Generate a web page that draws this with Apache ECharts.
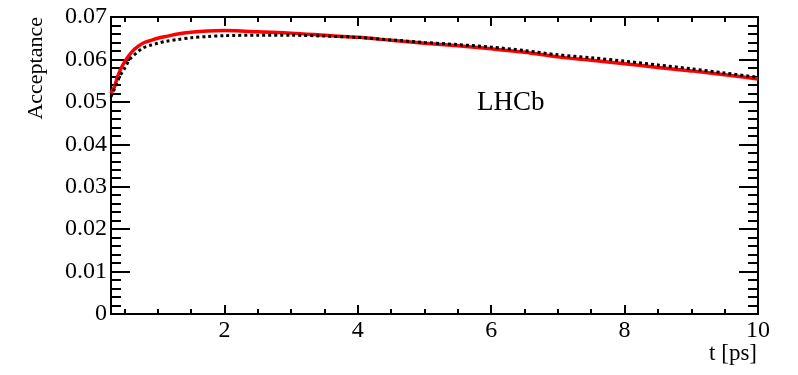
<!DOCTYPE html>
<html>
<head>
<meta charset="utf-8">
<script src="https://cdn.jsdelivr.net/npm/echarts@6/dist/echarts.min.js"></script>
<style>
  html, body { margin: 0; padding: 0; background: #fff; }
  #chart { width: 798px; height: 375px; }
</style>
</head>
<body>
<div id="chart"></div>
<script>
// acceptance curves, t in ps
const tRed = [0.3, 0.35, 0.4, 0.47, 0.55, 0.62, 0.7, 0.8, 0.9, 1.0, 1.15, 1.3, 1.5, 1.75, 2.0, 2.25, 2.5, 3.0, 3.5, 4.0, 4.5, 5.0, 5.5, 6.0, 6.5, 7.0, 7.5, 8.0, 8.5, 9.0, 9.5, 10];
const accRed = [0.0520, 0.0535, 0.0560, 0.0585, 0.0605, 0.0619, 0.0630, 0.0640, 0.0645, 0.0650, 0.0655, 0.0660, 0.0664, 0.0667, 0.0668, 0.0667, 0.0665, 0.0662, 0.0657, 0.0652, 0.0645, 0.0638, 0.0632, 0.0625, 0.0617, 0.0606, 0.0598, 0.0590, 0.0581, 0.0573, 0.0564, 0.0554];

const tBlack = [0.3, 0.35, 0.43, 0.5, 0.58, 0.68, 0.78, 0.9, 1.0, 1.13, 1.3, 1.5, 1.75, 2.0, 2.5, 3.0, 3.5, 4.0, 4.5, 5.0, 5.5, 6.0, 6.5, 7.0, 7.5, 8.0, 8.5, 9.0, 9.5, 10];
const accBlack = [0.0512, 0.0530, 0.0560, 0.0578, 0.0600, 0.0615, 0.0627, 0.0634, 0.0638, 0.0643, 0.0647, 0.0651, 0.0654, 0.0656, 0.0657, 0.0657, 0.0655, 0.0652, 0.0646, 0.0640, 0.0635, 0.0629, 0.0621, 0.0611, 0.0604, 0.0596, 0.0587, 0.0578, 0.0568, 0.0558];

const xMajor = [2, 4, 6, 8, 10];
const xMinor = [0.5, 1, 1.5, 2.5, 3, 3.5, 4.5, 5, 5.5, 6.5, 7, 7.5, 8.5, 9, 9.5];

const FONT = 'Liberation Serif';
const chart = echarts.init(document.getElementById('chart'));

function zip(xs, ys) {
    return xs.map((x, i) => [x, ys[i]]);
}

function xAxisDef(position, values, len, showLabel) {
    return {
        type: 'value',
        position: position,
        min: 0.3,
        max: 10,
        axisLine: { show: true, lineStyle: { color: '#000', width: 2 } },
        axisTick: { show: true, inside: true, length: len, customValues: values, lineStyle: { color: '#000', width: 2 } },
        axisLabel: {
            show: showLabel,
            customValues: values,
            color: '#000',
            fontFamily: FONT,
            fontSize: 24,
            margin: 5
        },
        splitLine: { show: false }
    };
}

function yAxisDef(position, showLabel) {
    return {
        type: 'value',
        position: position,
        min: 0,
        max: 0.07,
        interval: 0.01,
        axisLine: { show: true, lineStyle: { color: '#000', width: 2 } },
        axisTick: { show: true, inside: true, length: 19, lineStyle: { color: '#000', width: 2 } },
        minorTick: { show: true, splitNumber: 5, length: 10, lineStyle: { color: '#000', width: 2 } },
        axisLabel: {
            show: showLabel,
            color: '#000',
            fontFamily: FONT,
            fontSize: 24,
            margin: 4
        },
        splitLine: { show: false }
    };
}

chart.setOption({
    animation: false,
    grid: { left: 111, right: 40, top: 17, bottom: 61 },
    xAxis: [
        xAxisDef('bottom', xMajor, 9, true),
        xAxisDef('bottom', xMinor, 5, false),
        xAxisDef('top', xMajor, 9, false),
        xAxisDef('top', xMinor, 5, false)
    ],
    yAxis: [
        yAxisDef('left', true),
        yAxisDef('right', false)
    ],
    graphic: [
        {
            type: 'text',
            x: 757, y: 342,
            style: { text: 't [ps]', fontFamily: FONT, fontSize: 23, fill: '#000', textAlign: 'right', textVerticalAlign: 'top' }
        },
        {
            type: 'text',
            x: 36, y: 17,
            rotation: Math.PI / 2,
            style: { text: 'Acceptance', fontFamily: FONT, fontSize: 22, fill: '#000', textAlign: 'right', textVerticalAlign: 'middle' }
        },
        {
            type: 'text',
            x: 477, y: 89,
            style: { text: 'LHCb', fontFamily: FONT, fontSize: 27, fill: '#000', textAlign: 'left', textVerticalAlign: 'top' }
        }
    ],
    series: [
        {
            type: 'line',
            xAxisIndex: 0,
            yAxisIndex: 0,
            data: zip(tRed, accRed),
            showSymbol: false,
            smooth: 0.3,
            lineStyle: { color: '#ff0000', width: 3.5 }
        },
        {
            type: 'line',
            xAxisIndex: 0,
            yAxisIndex: 0,
            data: zip(tBlack, accBlack),
            showSymbol: false,
            smooth: 0.3,
            lineStyle: { color: '#000', width: 3, type: [3, 3] }
        }
    ]
});
</script>
</body>
</html>
